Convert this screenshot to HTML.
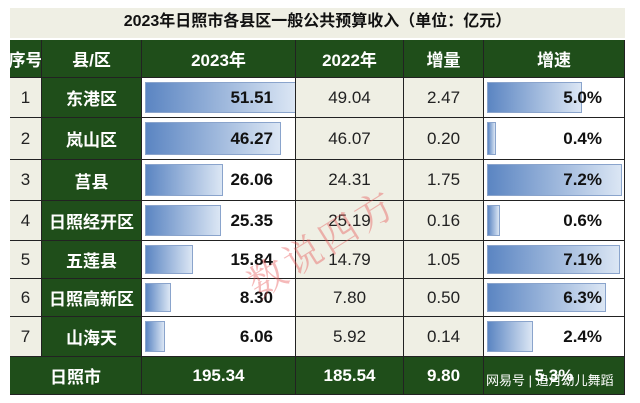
<!DOCTYPE html>
<html><head><meta charset="utf-8"><style>
body{margin:0;width:640px;height:403px;background:#fff;position:relative;overflow:hidden;font-family:"Liberation Sans","Noto Sans CJK SC",sans-serif}
.t{position:absolute;left:10px;top:8px;width:615px;height:30px;background:#efefe4;text-align:center;font-weight:bold;font-size:16px;line-height:28px;color:#111}
.c{position:absolute;box-sizing:border-box;display:flex;align-items:center;justify-content:center;font-size:17px;border-right:1px solid #222;border-bottom:1px solid #222;white-space:nowrap;overflow:hidden}
.h{background:#1f4e1a;color:#fff;font-weight:bold}
.b{background:#efefe4;color:#222}
.w{background:#fff;color:#111;font-weight:bold;justify-content:flex-end;padding-right:22px}
.bar{position:absolute;left:3px;top:4px;bottom:4px;background:linear-gradient(90deg,#5b85c2,#dbe6f4);border:1px solid #8aa4cc}
.c span{position:relative}
</style></head><body>
<div class="t">2023年日照市各县区一般公共预算收入（单位：亿元）</div>
<div id="g"></div>
<div style="position:absolute;left:235px;top:262px;transform:rotate(-32deg);color:rgba(230,80,80,0.4);font-size:38px;font-family:'Noto Serif CJK SC',serif;transform-origin:left top;letter-spacing:4px">数说四方</div>
<div style="position:absolute;left:486px;top:370px;color:#fff;font-size:13px">网易号 | 追月幼儿舞蹈</div>
<script>
var cols=[10,42,142,296,404,484,625];
var rows=[40,78,118,160,201,241,279,317,357,395];
var d=[["序号","县/区","2023年","2022年","增量","增速"],
["1","东港区","51.51","49.04","2.47","5.0%"],
["2","岚山区","46.27","46.07","0.20","0.4%"],
["3","莒县","26.06","24.31","1.75","7.2%"],
["4","日照经开区","25.35","25.19","0.16","0.6%"],
["5","五莲县","15.84","14.79","1.05","7.1%"],
["6","日照高新区","8.30","7.80","0.50","6.3%"],
["7","山海天","6.06","5.92","0.14","2.4%"],
["日照市","","195.34","185.54","9.80","5.3%"]];
var h="";
for(var r=0;r<9;r++){
 for(var c=0;c<6;c++){
  var x=cols[c],w=cols[c+1]-x,y=rows[r],ht=rows[r+1]-y,cl,txt=d[r][c],inner="";
  if(r==8){ if(c==1)continue; if(c==0){w=cols[2]-x;} cl="h";}
  else if(r==0||c==1)cl="h";
  else if(c==2||c==5){cl="w";var v=parseFloat(txt);var bw=c==2?v*2.9:v*18.5;inner='<div class="bar" style="width:'+bw+'px"></div>';}
  else cl="b";
  h+='<div class="c '+cl+'" style="left:'+x+'px;top:'+y+'px;width:'+w+'px;height:'+ht+'px">'+inner+'<span>'+txt+'</span></div>';
 }
}
document.getElementById("g").innerHTML=h;
</script>
</body></html>
